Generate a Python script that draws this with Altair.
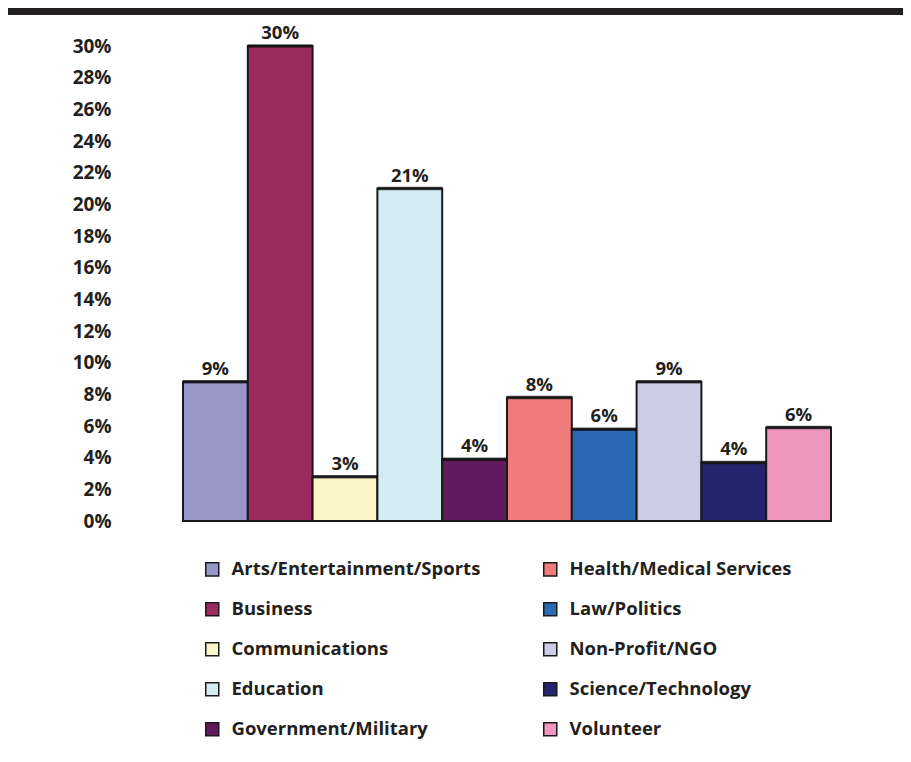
import altair as alt
import pandas as pd

categories = [
    "Arts/Entertainment/Sports", "Business", "Communications", "Education",
    "Government/Military", "Health/Medical Services", "Law/Politics",
    "Non-Profit/NGO", "Science/Technology", "Volunteer",
]
values = [8.8, 30.0, 2.8, 21.0, 3.9, 7.8, 5.8, 8.8, 3.7, 5.9]
value_labels = ["9%", "30%", "3%", "21%", "4%", "8%", "6%", "9%", "4%", "6%"]
colors = [
    "#9696c8", "#9b2a5f", "#fbf5c8", "#d4ecf4", "#611a5e",
    "#ef7b7b", "#2a6ab5", "#cccce6", "#24246e", "#f097c0",
]
y_ticks = list(range(0, 31, 2))

df = pd.DataFrame({"category": categories, "value": values, "label": value_labels})

FONT = "Open Sans"
TXT = "#231f20"

base = alt.Chart(df)
xenc = alt.X("category:N", sort=categories, axis=None,
             scale=alt.Scale(paddingInner=0, paddingOuter=0))
yenc = alt.Y("value:Q", scale=alt.Scale(domain=[0, 30], nice=False),
             axis=alt.Axis(values=y_ticks, labelExpr="datum.value + '%'",
                           domain=False, ticks=False, grid=False, title=None,
                           labelOverlap=False,
                           labelFont=FONT, labelFontSize=19, labelFontWeight="bold",
                           labelColor=TXT, labelPadding=72))

bars = base.mark_bar(stroke="#1a1a1a", strokeWidth=2).encode(
    x=xenc, y=yenc,
    color=alt.Color("category:N",
                    scale=alt.Scale(domain=categories, range=colors),
                    legend=alt.Legend(title=None, orient="none", legendX=20, legendY=514,
                                      columns=2, direction="vertical",
                                      symbolType="square", symbolSize=170,
                                      symbolStrokeColor="#1a1a1a", symbolStrokeWidth=1.5,
                                      labelFont=FONT, labelFontSize=18.5, labelFontWeight="bold",
                                      labelColor=TXT, labelOffset=10, rowPadding=20,
                                      columnPadding=59, padding=0, labelLimit=400)),
)

tops = base.mark_tick(color="#111111", thickness=3.5, size=65).encode(x=xenc, y=yenc)

text = base.mark_text(font=FONT, fontSize=18.5, fontWeight="bold", color=TXT,
                      baseline="bottom", dy=-3).encode(x=xenc, y=yenc, text="label:N")

band = alt.Chart(pd.DataFrame({"a": [0]})).mark_rect(color="#231f20").encode(
    x=alt.value(-175), x2=alt.value(730), y=alt.value(-38), y2=alt.value(-31))

chart = alt.layer(band, bars, tops, text).properties(
    width=648, height=475,
    autosize=alt.AutoSizeParams(type="none"),
    padding={"left": 175, "top": 38, "right": 72, "bottom": 233},
).configure_view(stroke=None).configure_axis(labelOverlap=False)

chart.save("out.html", embed_options={"renderer": "svg", "actions": False})
